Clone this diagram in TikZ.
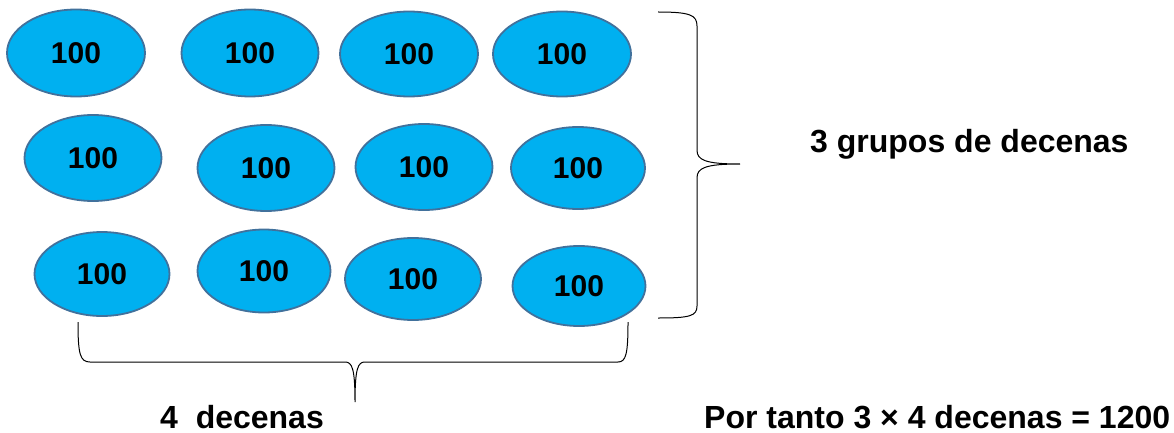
\documentclass[tikz,border=0pt]{standalone}
\usepackage{fontspec}
\setmainfont{Liberation Sans}
\usepackage{tikz}
\usetikzlibrary{shapes.geometric,positioning}
\definecolor{hfill}{HTML}{00B0F0}
\definecolor{hline}{HTML}{41719C}
\tikzset{
  cien/.style={ellipse,draw=hline,fill=hfill,line width=1.8pt,inner sep=0pt,
    minimum width=137pt,minimum height=86pt,font=\bfseries\fontsize{30}{36}\selectfont},
  lbl/.style={inner sep=0pt,font=\bfseries\fontsize{32}{38}\selectfont},
  llave/.style={draw=black,line width=1pt},
}
\begin{document}
\begin{tikzpicture}[x=1pt,y=-1pt]
\useasboundingbox (0,0) rectangle (1174,433);
% fila 1
\node[cien,minimum width=138pt,minimum height=87pt] (a1) at (76,53) {100};
\node[cien,minimum width=137pt,minimum height=87pt] (a2) at (250,53) {100};
\node[cien,minimum width=138pt,minimum height=85pt] (a3) at (409,54) {100};
\node[cien,minimum width=138pt,minimum height=85pt] (a4) at (562,54) {100};
% fila 2
\node[cien] (b1) at (93,158) {100};
\node[cien] (b2) at (266,168) {100};
\node[cien] (b3) at (424,167) {100};
\node[cien,minimum width=134pt,minimum height=82pt] (b4) at (578,168) {100};
% fila 3
\node[cien,minimum width=135pt,minimum height=84pt] (c1) at (102,274) {100};
\node[cien,minimum width=133pt,minimum height=83pt] (c2) at (264,271) {100};
\node[cien,minimum width=136pt,minimum height=82pt] (c3) at (413,279) {100};
\node[cien,minimum width=133pt,minimum height=80pt] (c4) at (579,286) {100};
% llaves
\draw[llave] (658,12) .. controls (690,12) and (697,15) .. (697,26) -- (697,150)
  .. controls (697,160) and (705,164) .. (740,164)
  .. controls (705,164) and (697,168) .. (697,178) -- (697,306)
  .. controls (697,316) and (690,318) .. (658,318);
\draw[llave] (78,322) .. controls (78,354) and (80,362) .. (90,362) -- (345,362)
  .. controls (352,362) and (355,368) .. (355,402)
  .. controls (355,368) and (358,362) .. (365,362) -- (618,362)
  .. controls (626,362) and (628,354) .. (628,322);
% textos
\node[lbl,anchor=base west] (grupos) at (810,152) {3 grupos de decenas};
\node[lbl,anchor=base west] (dec) at (160,428) {4~~decenas};
\node[lbl,anchor=base west] (total) at (704,428) {Por tanto 3 × 4 decenas = 1200};
\end{tikzpicture}
\end{document}
